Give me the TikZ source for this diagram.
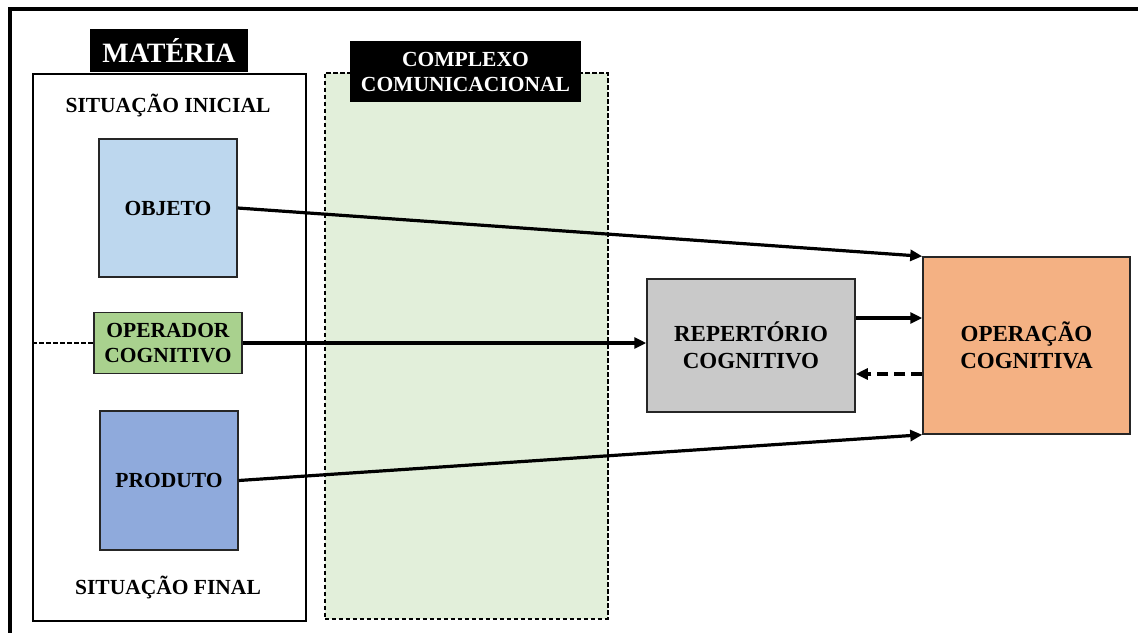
\documentclass[tikz,border=0pt]{standalone}
\usepackage{fontspec}
\setmainfont{Liberation Serif}
\usetikzlibrary{arrows.meta}
\definecolor{objc}{HTML}{BDD7EE}
\definecolor{opc}{HTML}{A9D18E}
\definecolor{prodc}{HTML}{8FAADC}
\definecolor{repc}{HTML}{C9C9C9}
\definecolor{operc}{HTML}{F4B183}
\definecolor{compc}{HTML}{E2EFDA}
\begin{document}
\begin{tikzpicture}[x=1pt,y=-1pt,
  txt/.style={font=\fontsize{21.5}{25}\selectfont\bfseries, align=center},
  bigtxt/.style={font=\fontsize{23}{27}\selectfont\bfseries, align=center},
  box/.style={draw=black!85, line width=1.5pt, inner sep=0pt},
  tag/.style={fill=black, text=white, inner sep=0pt},
  conn/.style={line width=3.2pt, -{Triangle[length=12pt,width=11pt]}},
]
\useasboundingbox (0,0) rectangle (1138,633);
% outer frame
\coordinate (fr1) at (1138,9);
\coordinate (fr2) at (10,9);
\coordinate (fr3) at (10,633);
\draw[line width=3.5pt] (fr1) -- (fr2) -- (fr3);
% containers
\node[draw, line width=1.6pt, inner sep=0pt, minimum width=273pt, minimum height=547pt, anchor=north west] (mat) at (32,73) {};
\node[draw, fill=compc, line width=1.6pt, dash pattern=on 4.5pt off 2.5pt, inner sep=0pt, minimum width=283pt, minimum height=546pt, anchor=north west] (comp) at (324,72) {};
% tags
\node[tag, minimum width=158pt, minimum height=43pt, font=\fontsize{28}{32}\selectfont\bfseries] (matl) at (169,50.5) {MATÉRIA};
\node[tag, minimum width=231pt, minimum height=61pt, txt] (compl) at (465.5,71.5) {COMPLEXO\\COMUNICACIONAL};
% situation labels
\node[txt] (sini) at (168,105) {SITUAÇÃO INICIAL};
\node[txt] (sfin) at (168,587) {SITUAÇÃO FINAL};
% boxes
\node[box, fill=objc, minimum width=138pt, minimum height=138pt, txt] (obj) at (168,208) {OBJETO};
\node[box, fill=opc, minimum width=148pt, minimum height=61pt, txt] (op) at (168,343) {OPERADOR\\COGNITIVO};
\node[box, fill=prodc, minimum width=138pt, minimum height=139pt, txt] (prod) at (169,480.5) {PRODUTO};
\node[box, fill=repc, minimum width=208pt, minimum height=133pt, bigtxt] (rep) at (751,345.5) {REPERTÓRIO\\COGNITIVO};
\node[box, fill=operc, minimum width=207pt, minimum height=177pt, bigtxt] (oper) at (1026.5,345.5) {OPERAÇÃO\\COGNITIVA};
% connectors
\draw[line width=1.3pt, dash pattern=on 4.5pt off 2.5pt] (mat.west |- op.west) -- (op.west);
\draw[conn] (obj.east) -- (oper.north west);
\draw[conn] (op.east) -- (op.east -| rep.west);
\draw[conn] (prod.east) -- (oper.south west);
\draw[conn] ([yshift=27.5pt]rep.east) -- ([yshift=27.5pt]rep.east -| oper.west);
\draw[conn, dash pattern=on 11pt off 6pt] ([yshift=-28.5pt]rep.east -| oper.west) -- ([yshift=-28.5pt]rep.east);
\end{tikzpicture}
\end{document}
